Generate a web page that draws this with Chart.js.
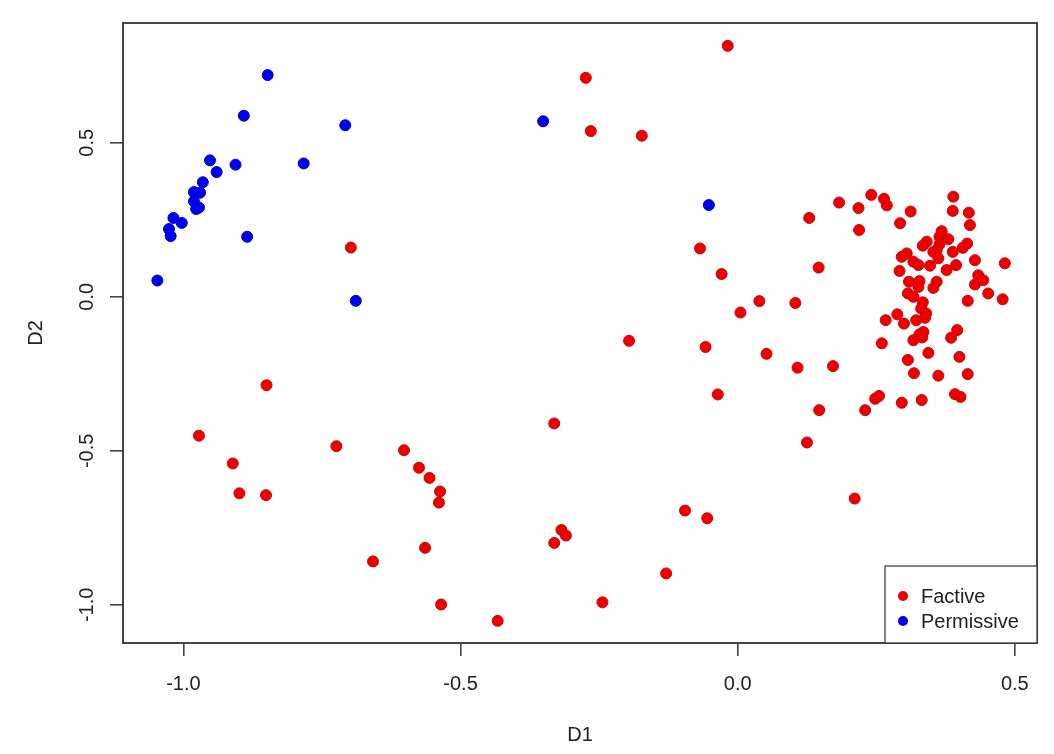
<!DOCTYPE html>
<html>
<head>
<meta charset="utf-8">
<script src="https://cdn.jsdelivr.net/npm/chart.js@4.4.1/dist/chart.umd.min.js"></script>
<style>
  html, body { margin: 0; padding: 0; background: #fff; }
  #wrap { width: 1054px; height: 754px; }
</style>
</head>
<body>
<div id="wrap"><canvas id="grafico"></canvas></div>
<script>
// Dados (D1 = eixo x, D2 = eixo y)
const seriesLabels = ["Factive", "Permissive"];
const seriesColors = ["#ee0000", "#0000ee"];

const factiveD1 = [
  -0.698, -0.850, -0.972, -0.911, -0.899, -0.851, -0.724, -0.602, -0.575, -0.556,
  -0.537, -0.539, -0.564, -0.658, -0.535, -0.433, -0.331, -0.036, -0.318, -0.310,
  -0.331, -0.095, -0.055, -0.129, -0.244, -0.018, -0.274, -0.265, -0.173, -0.068,
  -0.029, 0.039, 0.005, 0.104, -0.196, -0.058, 0.052, 0.108,
  0.129, 0.183, 0.218, 0.241, 0.264, 0.269, 0.219, 0.312, 0.293, 0.389,
  0.388, 0.417, 0.419, 0.146, 0.172, 0.260, 0.307, 0.318, 0.344, 0.362,
  0.400, 0.415, 0.317, 0.333, 0.335, 0.385, 0.396, 0.415, 0.428, 0.434,
  0.443, 0.428, 0.452, 0.478, 0.482,
  0.147, 0.230, 0.248, 0.255, 0.296, 0.332, 0.392, 0.402, 0.125, 0.211,
  0.368, 0.364, 0.380, 0.341, 0.334, 0.364, 0.414, 0.406, 0.359, 0.353,
  0.388, 0.305, 0.296, 0.317, 0.326, 0.362, 0.347, 0.394, 0.377, 0.292,
  0.309, 0.328, 0.359, 0.353, 0.326, 0.307, 0.317, 0.334, 0.331, 0.340,
  0.288, 0.267, 0.300, 0.322, 0.338, 0.328
];
const factiveD2 = [
  0.160, -0.287, -0.451, -0.541, -0.638, -0.644, -0.485, -0.498, -0.555, -0.588,
  -0.632, -0.668, -0.815, -0.859, -0.999, -1.052, -0.411, -0.317, -0.757, -0.775,
  -0.799, -0.694, -0.719, -0.898, -0.992, 0.815, 0.711, 0.538, 0.523, 0.157,
  0.074, -0.014, -0.051, -0.020, -0.143, -0.163, -0.185, -0.230,
  0.256, 0.306, 0.288, 0.331, 0.318, 0.297, 0.217, 0.277, 0.239, 0.325,
  0.279, 0.273, 0.233, 0.095, -0.225, -0.151, -0.205, -0.248, -0.182, -0.256,
  -0.195, -0.251, -0.141, -0.132, -0.114, -0.133, -0.108, -0.013, 0.040, 0.070,
  0.054, 0.119, 0.011, -0.008, 0.109,
  -0.368, -0.368, -0.331, -0.322, -0.344, -0.335, -0.316, -0.325, -0.473, -0.655,
  0.213, 0.195, 0.187, 0.179, 0.166, 0.170, 0.173, 0.159, 0.152, 0.146,
  0.146, 0.141, 0.130, 0.114, 0.103, 0.125, 0.101, 0.103, 0.087, 0.084,
  0.049, 0.051, 0.049, 0.029, 0.032, 0.011, 0.000, -0.018, -0.038, -0.054,
  -0.057, -0.076, -0.087, -0.076, -0.068, -0.122
];

const permissiveD1 = [
  -0.848, -0.891, -0.708, -0.952, -0.906, -0.783, -0.940, -0.965, -0.981, -0.970,
  -0.981, -0.972, -0.977, -1.018, -1.003, -1.026, -1.023, -0.885, -1.047, -0.689,
  -0.351, -0.052
];
const permissiveD2 = [
  0.720, 0.588, 0.557, 0.443, 0.429, 0.433, 0.405, 0.372, 0.340, 0.338,
  0.310, 0.290, 0.285, 0.256, 0.240, 0.220, 0.197, 0.195, 0.053, -0.013,
  0.570, 0.298
];

const xTicks = [-1.0, -0.5, 0.0, 0.5];
const yTicks = [-1.0, -0.5, 0.0, 0.5];
const xTitle = "D1";
const yTitle = "D2";
const xRange = [-1.109, 0.540];
const yRange = [-1.124, 0.889];

const fonte = '"Liberation Sans", Arial, sans-serif';

function juntarPontos(xs, ys) {
  return xs.map((x, i) => ({ x: x, y: ys[i] }));
}

// Caixa do gráfico, rótulos do eixo y girados e legenda no canto
const caixaPlugin = {
  id: 'caixa',
  afterDraw(chart) {
    const { ctx, chartArea: a, scales } = chart;
    ctx.save();

    ctx.strokeStyle = '#333';
    ctx.lineWidth = 1.8;
    ctx.strokeRect(a.left, a.top, a.right - a.left, a.bottom - a.top);

    ctx.fillStyle = '#222';
    ctx.font = '20px ' + fonte;
    ctx.textAlign = 'center';
    ctx.textBaseline = 'middle';
    yTicks.forEach(v => {
      const py = scales.y.getPixelForValue(v);
      ctx.save();
      ctx.translate(87, py);
      ctx.rotate(-Math.PI / 2);
      ctx.fillText(v.toFixed(1), 0, 0);
      ctx.restore();
    });

    // legenda
    const lx = 885, ly = 566;
    ctx.fillStyle = '#fff';
    ctx.fillRect(lx, ly, a.right - lx, a.bottom - ly);
    ctx.strokeStyle = '#333';
    ctx.lineWidth = 1.2;
    ctx.strokeRect(lx, ly, a.right - lx, a.bottom - ly);
    ctx.font = '20px ' + fonte;
    ctx.textAlign = 'left';
    chart.data.datasets.forEach((ds, i) => {
      const cy = 596 + i * 25;
      ctx.beginPath();
      ctx.arc(903, cy, 5, 0, Math.PI * 2);
      ctx.fillStyle = ds.backgroundColor;
      ctx.fill();
      ctx.fillStyle = '#222';
      ctx.fillText(ds.label, 921, cy + 1);
    });
    ctx.restore();
  }
};

document.addEventListener("DOMContentLoaded", () => {
  const ctx = document.getElementById('grafico').getContext('2d');

  new Chart(ctx, {
    type: 'scatter',
    data: {
      datasets: [
        {
          label: seriesLabels[0],
          data: juntarPontos(factiveD1, factiveD2),
          backgroundColor: seriesColors[0],
          borderColor: '#d00000',
          borderWidth: 1,
          pointRadius: 5.5
        },
        {
          label: seriesLabels[1],
          data: juntarPontos(permissiveD1, permissiveD2),
          backgroundColor: seriesColors[1],
          borderColor: '#0000c8',
          borderWidth: 1,
          pointRadius: 5.5
        }
      ]
    },
    options: {
      responsive: true,
      maintainAspectRatio: false,
      animation: false,
      layout: { padding: { top: 23, right: 17, left: 0, bottom: 0 } },
      plugins: { legend: { display: false }, tooltip: { enabled: false } },
      scales: {
        x: {
          type: 'linear',
          min: xRange[0],
          max: xRange[1],
          afterBuildTicks: s => { s.ticks = xTicks.map(v => ({ value: v })); },
          afterFit: s => { s.height = 111; },
          border: { display: false },
          grid: { drawOnChartArea: false, drawTicks: true, tickLength: 13, color: '#444', lineWidth: 1.6 },
          ticks: {
            color: '#222',
            font: { family: fonte, size: 20 },
            padding: 16,
            maxRotation: 0,
            callback: v => Number(v).toFixed(1)
          },
          title: { display: true, text: xTitle, color: '#222', font: { family: fonte, size: 20 }, padding: { top: 0, bottom: 7 } }
        },
        y: {
          type: 'linear',
          min: yRange[0],
          max: yRange[1],
          afterBuildTicks: s => { s.ticks = yTicks.map(v => ({ value: v })); },
          afterFit: s => { s.width = 123; },
          border: { display: false },
          grid: { drawOnChartArea: false, drawTicks: true, tickLength: 13, color: '#444', lineWidth: 1.6 },
          ticks: { display: false },
          title: { display: true, text: yTitle, color: '#222', font: { family: fonte, size: 20 }, padding: { top: 24, bottom: 0 } }
        }
      }
    },
    plugins: [caixaPlugin]
  });
});
</script>
</body>
</html>
